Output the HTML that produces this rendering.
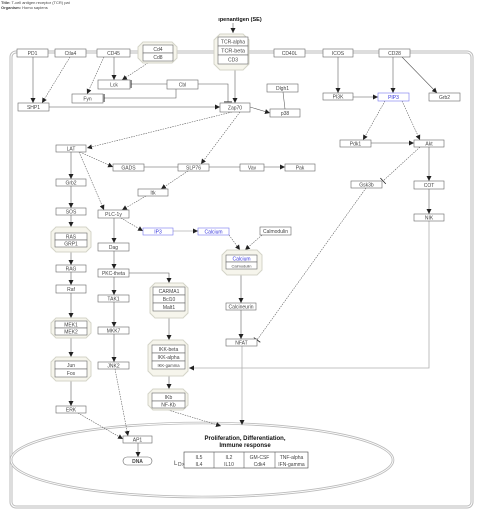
<!DOCTYPE html>
<html><head><meta charset="utf-8"><style>
html,body{margin:0;padding:0;background:#fff}
svg{display:block}
text{font-family:"Liberation Sans",sans-serif;font-size:5px;fill:#444}
.n{fill:#fff;stroke:#666;stroke-width:0.6}
.b{stroke:#7777ee}
.bt{fill:#3333dd}
.g{fill:#f6f5ec;stroke:#d4d4c8;stroke-width:1}
.l{stroke:#555;stroke-width:0.55;fill:none}
.d{stroke:#555;stroke-width:0.55;fill:none;stroke-dasharray:1.5,1}
.gl{stroke:#b0b0b0;stroke-width:0.8;fill:none}
</style></head><body>
<svg width="480" height="515" viewBox="0 0 480 515" xmlns="http://www.w3.org/2000/svg">
<defs>
<marker id="a" markerWidth="6" markerHeight="6" refX="5" refY="3" orient="auto" markerUnits="userSpaceOnUse"><path d="M0,0.5 L5,3 L0,5.5z" fill="#222"/></marker>
<marker id="t" markerWidth="2" markerHeight="8" refX="1" refY="4" orient="auto" markerUnits="userSpaceOnUse"><rect x="0.5" y="0" width="0.8" height="8" fill="#222"/></marker>
</defs>
<text x="1" y="4" style="font-size:4px"><tspan font-weight="bold">Title:</tspan> T-cell antigen receptor (TCR) pat</text>
<text x="1" y="9" style="font-size:4px"><tspan font-weight="bold">Organism:</tspan> Homo sapiens</text>
<text x="240" y="21" text-anchor="middle" style="font-size:5.5px;font-weight:bold;fill:#111">ıpenantigen (SE)</text>

<rect x="11" y="52" width="461" height="455" rx="5" fill="none" stroke="#bbb" stroke-width="3"/>
<rect x="11" y="52" width="461" height="455" rx="5" fill="none" stroke="#fff" stroke-width="1"/>
<ellipse cx="202" cy="460" rx="191" ry="37" fill="none" stroke="#bbb" stroke-width="2.6"/>
<ellipse cx="202" cy="460" rx="191" ry="37" fill="none" stroke="#fff" stroke-width="0.9"/>

<g>
<path class="l" d="M233,23 V33" marker-end="url(#a)"/>
<path class="l" d="M33,57 V103" marker-end="url(#a)"/>
<path class="d" d="M70,57 L42,103" marker-end="url(#a)"/>
<path class="l" d="M114,57 V80" marker-end="url(#a)"/>
<path class="d" d="M104,57 L87,94" marker-end="url(#a)"/>
<path class="d" d="M148,63 L122,80" marker-end="url(#a)"/>
<path class="l" d="M167,84 H131" marker-end="url(#t)"/>
<path class="l" d="M176,89 V98 H104" marker-end="url(#t)"/>
<path class="l" d="M198,84 H228 V102" marker-end="url(#t)"/>
<path class="l" d="M235,70 V103" marker-end="url(#a)"/>
<path class="l" d="M49,107 H220" marker-end="url(#a)"/>
<path class="l" d="M250,107 L270,113" marker-end="url(#a)"/>
<path class="l" d="M283,92 L285,109"/>
<path class="d" d="M232,112 L87,148" marker-end="url(#a)"/>
<path class="d" d="M240,112 L201,164" marker-end="url(#a)"/>
<path class="l" d="M338,57 V93" marker-end="url(#a)"/>
<path class="l" d="M393,57 V93" marker-end="url(#a)"/>
<path class="l" d="M402,57 L437,93" marker-end="url(#a)"/>
<path class="l" d="M353,97 H378" marker-end="url(#a)"/>
<path class="d" d="M385,101 L363,140" marker-end="url(#a)"/>
<path class="d" d="M402,101 L420,140" marker-end="url(#a)"/>
<path class="l" d="M371,143 H414" marker-end="url(#a)"/>
<path class="d" d="M420,147 L383,181" marker-end="url(#t)"/>
<path class="l" d="M429,147 V181" marker-end="url(#a)"/>
<path class="l" d="M429,189 V214" marker-end="url(#a)"/>
<path class="gl" d="M429,221 V368 H189" marker-end="url(#a)"/>
<path class="d" d="M366,188 L257,340" marker-end="url(#t)"/>
<path class="d" d="M80,152 L113,167" marker-end="url(#a)"/>
<path class="l" d="M144,167 H178"/>
<path class="l" d="M209,167 H240"/>
<path class="l" d="M264,167 H285" marker-end="url(#a)"/>
<path class="d" d="M188,171 L161,189" marker-end="url(#a)"/>
<path class="d" d="M146,196 L122,210" marker-end="url(#a)"/>
<path class="d" d="M79,152 L104,210" marker-end="url(#a)"/>
<path class="l" d="M71,152 V179" marker-end="url(#a)"/>
<path class="l" d="M71,186 V208" marker-end="url(#a)"/>
<path class="l" d="M71,215 V227" marker-end="url(#a)"/>
<path class="l" d="M71,252 V265" marker-end="url(#a)"/>
<path class="l" d="M71,272 V285" marker-end="url(#a)"/>
<path class="l" d="M71,293 V318" marker-end="url(#a)"/>
<path class="l" d="M71,338 V357" marker-end="url(#a)"/>
<path class="l" d="M71,381 V406" marker-end="url(#a)"/>
<path class="d" d="M78,413 L123,439" marker-end="url(#a)"/>
<path class="d" d="M121,218 L143,231" marker-end="url(#a)"/>
<path class="gl" d="M173,231 H198" marker-end="url(#a)"/>
<path class="d" d="M229,235 L240,250" marker-end="url(#a)"/>
<path class="d" d="M262,235 L245,250" marker-end="url(#a)"/>
<path class="l" d="M114,218 V243" marker-end="url(#a)"/>
<path class="l" d="M114,251 V269" marker-end="url(#a)"/>
<path class="l" d="M114,277 V295" marker-end="url(#a)"/>
<path class="l" d="M129,273 H169 V283" marker-end="url(#a)"/>
<path class="l" d="M114,302 V327" marker-end="url(#a)"/>
<path class="l" d="M114,334 V362" marker-end="url(#a)"/>
<path class="d" d="M115,369 L128,436" marker-end="url(#a)"/>
<path class="l" d="M169,318 V340" marker-end="url(#a)"/>
<path class="l" d="M169,376 V389" marker-end="url(#a)"/>
<path class="d" d="M168,410 L221,426" marker-end="url(#a)"/>
<path class="l" d="M241,275 V303" marker-end="url(#a)"/>
<path class="l" d="M241,310 V339" marker-end="url(#a)"/>
<path class="gl" d="M242,346 V425" marker-end="url(#a)"/>
<path class="l" d="M138,443 V457" marker-end="url(#a)"/>
</g>

<polygon class="g" points="143,42 172,42 177,47 177,58 172,63 143,63 138,58 138,47"/>
<polygon class="g" points="220,34 243,34 249,40 249,64 243,70 220,70 214,64 214,40"/>
<polygon class="g" points="56,227 86,227 91,232 91,247 86,252 56,252 51,247 51,232"/>
<polygon class="g" points="227,250 257,250 262,255 262,270 257,275 227,275 222,270 222,255"/>
<polygon class="g" points="155,283 183,283 188,288 188,313 183,318 155,318 150,313 150,288"/>
<polygon class="g" points="56,318 86,318 91,323 91,333 86,338 56,338 51,333 51,323"/>
<polygon class="g" points="56,357 86,357 91,362 91,376 86,381 56,381 51,376 51,362"/>
<polygon class="g" points="153,340 183,340 188,345 188,371 183,376 153,376 148,371 148,345"/>
<polygon class="g" points="153,389 183,389 188,394 188,405 183,410 153,410 148,405 148,394"/>

<g id="nodes">
<rect class="n" x="17" y="49" width="31" height="8"/><text x="32.5" y="55" text-anchor="middle">PD1</text>
<rect class="n" x="55" y="49" width="31" height="8"/><text x="70.5" y="55" text-anchor="middle">Ctla4</text>
<rect class="n" x="97" y="49" width="33" height="8"/><text x="113.5" y="55" text-anchor="middle">CD45</text>
<rect class="n" x="143" y="45" width="30" height="8"/><text x="158" y="51" text-anchor="middle">Cd4</text>
<rect class="n" x="143" y="53" width="30" height="8"/><text x="158" y="59" text-anchor="middle">Cd8</text>
<rect class="n" x="218" y="37" width="30" height="9"/><text x="233" y="43.5" text-anchor="middle">TCR-alpha</text>
<rect class="n" x="218" y="46" width="30" height="9"/><text x="233" y="52.5" text-anchor="middle" style="font-size:5.5px">TCR-beta</text>
<rect class="n" x="218" y="55" width="30" height="9"/><text x="233" y="61.5" text-anchor="middle">CD3</text>
<rect class="n" x="274" y="49" width="31" height="8"/><text x="289.5" y="55" text-anchor="middle">CD40L</text>
<rect class="n" x="323" y="49" width="30" height="8"/><text x="338" y="55" text-anchor="middle">ICOS</text>
<rect class="n" x="379" y="49" width="31" height="8"/><text x="394.5" y="55" text-anchor="middle">CD28</text>
<rect class="n" x="98" y="80" width="32" height="9"/><text x="114" y="86.5" text-anchor="middle">Lck</text>
<rect class="n" x="167" y="80" width="31" height="9"/><text x="182.5" y="86.5" text-anchor="middle">Cbl</text>
<rect class="n" x="72" y="94" width="31" height="9"/><text x="87.5" y="100.5" text-anchor="middle">Fyn</text>
<rect class="n" x="18" y="103" width="31" height="8"/><text x="33.5" y="109" text-anchor="middle">SHP1</text>
<rect class="n" x="220" y="103" width="30" height="9"/><text x="235" y="109.5" text-anchor="middle">Zap70</text>
<rect class="n" x="267" y="84" width="31" height="8"/><text x="282.5" y="90" text-anchor="middle">Dlgh1</text>
<rect class="n" x="270" y="109" width="30" height="8"/><text x="285" y="115" text-anchor="middle">p38</text>
<rect class="n" x="323" y="93" width="30" height="7"/><text x="338" y="98.5" text-anchor="middle">PI3K</text>
<rect class="n b" x="378" y="93" width="31" height="8"/><text class="bt" x="393.5" y="99" text-anchor="middle">PIP3</text>
<rect class="n" x="429" y="93" width="31" height="8"/><text x="444.5" y="99" text-anchor="middle">Grb2</text>
<rect class="n" x="56" y="145" width="30" height="7"/><text x="71" y="150.5" text-anchor="middle">LAT</text>
<rect class="n" x="113" y="164" width="31" height="7"/><text x="128.5" y="169.5" text-anchor="middle">GADS</text>
<rect class="n" x="178" y="164" width="31" height="7"/><text x="193.5" y="169.5" text-anchor="middle">SLP76</text>
<rect class="n" x="240" y="164" width="24" height="7"/><text x="252" y="169.5" text-anchor="middle">Vav</text>
<rect class="n" x="285" y="164" width="30" height="7"/><text x="300" y="169.5" text-anchor="middle">Pak</text>
<rect class="n" x="138" y="189" width="30" height="7"/><text x="153" y="194.5" text-anchor="middle">Itk</text>
<rect class="n" x="340" y="140" width="31" height="7"/><text x="355.5" y="145.5" text-anchor="middle">Pdk1</text>
<rect class="n" x="414" y="140" width="30" height="7"/><text x="429" y="145.5" text-anchor="middle">Akt</text>
<rect class="n" x="351" y="181" width="31" height="7"/><text x="366.5" y="186.5" text-anchor="middle">Gsk3b</text>
<rect class="n" x="414" y="181" width="30" height="8"/><text x="429" y="187" text-anchor="middle">COT</text>
<rect class="n" x="414" y="214" width="30" height="7"/><text x="429" y="219.5" text-anchor="middle">NIK</text>
<rect class="n" x="56" y="179" width="30" height="7"/><text x="71" y="184.5" text-anchor="middle">Grb2</text>
<rect class="n" x="56" y="208" width="30" height="7"/><text x="71" y="213.5" text-anchor="middle">SOS</text>
<rect class="n" x="55" y="233" width="32" height="7"/><text x="71" y="238.5" text-anchor="middle">RAS</text>
<rect class="n" x="55" y="240" width="32" height="7"/><text x="71" y="245.5" text-anchor="middle">GRP1</text>
<rect class="n" x="56" y="265" width="30" height="7"/><text x="71" y="270.5" text-anchor="middle">RAG</text>
<rect class="n" x="98" y="210" width="31" height="8"/><text x="113.5" y="216" text-anchor="middle">PLC-1y</text>
<rect class="n b" x="143" y="228" width="30" height="7"/><text class="bt" x="158" y="233.5" text-anchor="middle">IP3</text>
<rect class="n b" x="198" y="228" width="31" height="7"/><text class="bt" x="213.5" y="233.5" text-anchor="middle">Calcium</text>
<rect class="n" x="260" y="227" width="31" height="8"/><text x="275.5" y="233" text-anchor="middle">Calmodulin</text>
<rect class="n" x="226" y="255" width="31" height="7"/><text class="bt" x="241.5" y="260.5" text-anchor="middle">Calcium</text>
<rect class="n" x="226" y="262" width="31" height="7"/><text x="241.5" y="267.5" text-anchor="middle" style="font-size:4px">Calmodulin</text>
<rect class="n" x="98" y="243" width="31" height="8"/><text x="113.5" y="249" text-anchor="middle">Dag</text>
<rect class="n" x="98" y="269" width="31" height="8"/><text x="113.5" y="275" text-anchor="middle">PKC-theta</text>
<rect class="n" x="56" y="285" width="30" height="8"/><text x="71" y="291" text-anchor="middle">Raf</text>
<rect class="n" x="98" y="295" width="31" height="7"/><text x="113.5" y="300.5" text-anchor="middle">TAK1</text>
<rect class="n" x="153" y="287" width="32" height="8"/><text x="169" y="293" text-anchor="middle">CARMA1</text>
<rect class="n" x="153" y="295" width="32" height="8"/><text x="169" y="301" text-anchor="middle">Bcl10</text>
<rect class="n" x="153" y="303" width="32" height="8"/><text x="169" y="309" text-anchor="middle">Malt1</text>
<rect class="n" x="55" y="321" width="32" height="7"/><text x="71" y="326.5" text-anchor="middle">MEK1</text>
<rect class="n" x="55" y="328" width="32" height="7"/><text x="71" y="333.5" text-anchor="middle">MEK2</text>
<rect class="n" x="98" y="327" width="31" height="7"/><text x="113.5" y="332.5" text-anchor="middle">MKK7</text>
<rect class="n" x="55" y="361" width="32" height="8"/><text x="71" y="367" text-anchor="middle">Jun</text>
<rect class="n" x="55" y="369" width="32" height="8"/><text x="71" y="375" text-anchor="middle">Fos</text>
<rect class="n" x="98" y="362" width="31" height="7"/><text x="113.5" y="367.5" text-anchor="middle">JNK2</text>
<rect class="n" x="152" y="345" width="33" height="8"/><text x="168.5" y="351" text-anchor="middle">IKK-beta</text>
<rect class="n" x="152" y="353" width="33" height="8"/><text x="168.5" y="359" text-anchor="middle">IKK-alpha</text>
<rect class="n" x="152" y="361" width="33" height="8"/><text x="168.5" y="367" text-anchor="middle" style="font-size:4.2px">IKK-gamma</text>
<rect class="n" x="152" y="393" width="33" height="8"/><text x="168.5" y="399" text-anchor="middle">IKb</text>
<rect class="n" x="152" y="401" width="33" height="7"/><text x="168.5" y="406.5" text-anchor="middle">NF-Kb</text>
<rect class="n" x="56" y="406" width="30" height="7"/><text x="71" y="411.5" text-anchor="middle">ERK</text>
<rect class="n" x="226" y="303" width="30" height="7"/><text x="241" y="308.5" text-anchor="middle">Calcineurin</text>
<rect class="n" x="226" y="339" width="31" height="7"/><text x="241.5" y="344.5" text-anchor="middle">NFAT</text>
<rect class="n" x="123" y="436" width="29" height="7"/><text x="137.5" y="441.5" text-anchor="middle">AP1</text>
<rect class="n" x="123" y="457" width="29" height="8" rx="4"/><text x="137.5" y="463" text-anchor="middle" style="font-weight:bold">DNA</text>
</g>

<text x="245" y="440" text-anchor="middle" style="font-size:6px;font-weight:bold;fill:#111">Proliferation, Differentiation,</text>
<text x="245" y="447" text-anchor="middle" style="font-size:6px;font-weight:bold;fill:#111">Immune response</text>
<rect x="184" y="452" width="124" height="16" fill="#fff" stroke="#444" stroke-width="0.6"/>
<path class="l" d="M214,452 V468 M244,452 V468 M275,452 V468"/>
<text x="199" y="459" text-anchor="middle">IL5</text><text x="199" y="466" text-anchor="middle">IL4</text>
<text x="229" y="459" text-anchor="middle">IL2</text><text x="229" y="466" text-anchor="middle">IL10</text>
<text x="259.5" y="459" text-anchor="middle">GM-CSF</text><text x="259.5" y="466" text-anchor="middle">Cdk4</text>
<text x="291.5" y="459" text-anchor="middle">TNF-alpha</text><text x="291.5" y="466" text-anchor="middle">IFN-gamma</text>
<text x="174" y="465" style="font-size:6px">L</text><text x="178" y="466">D&gt;</text>
</svg>
</body></html>
